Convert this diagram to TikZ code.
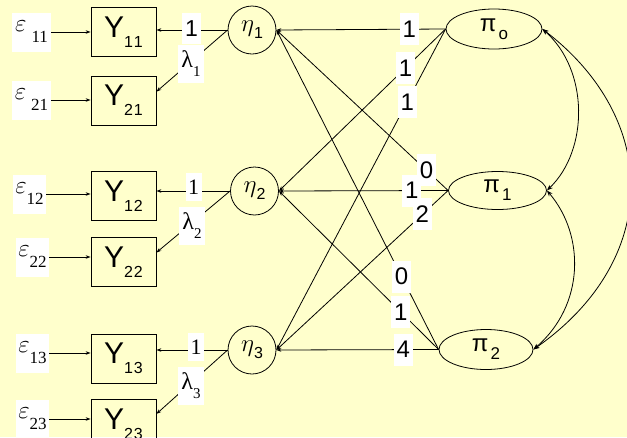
\documentclass[tikz,border=0pt]{standalone}
\usepackage{fontspec}
\setsansfont{Liberation Sans}
\newfontfamily\tnr{Liberation Serif}
\usetikzlibrary{shapes.geometric,arrows.meta,calc}
\definecolor{bg}{RGB}{255,255,204}
\newcommand{\fs}[1]{\fontsize{#1}{#1}\selectfont}
\begin{document}
\begin{tikzpicture}[x=1pt,y=-1pt,
  line width=0.8pt,
  ybox/.style={draw, rectangle, minimum width=65pt, minimum height=49pt, inner sep=0pt, font=\sffamily},
  ebox/.style={fill=white, minimum width=37pt, minimum height=39pt, inner sep=0pt},
  etac/.style={draw, circle, minimum size=48pt, inner sep=0pt},
  pie/.style={draw, ellipse, minimum width=96pt, minimum height=40pt, inner sep=0pt, font=\sffamily},
  lab/.style={fill=white, inner sep=0pt, minimum width=19pt, minimum height=32pt, font=\sffamily\fs{24}},
  slab/.style={fill=white, inner sep=0pt, minimum width=16pt, minimum height=28pt, font=\tnr\fs{22}},
  llab/.style={fill=white, inner sep=0pt, minimum width=26pt, minimum height=38pt, font=\tnr},
  arr/.style={-{Stealth[length=5pt,width=3.5pt]}},
  darr/.style={{Stealth[open,length=6pt,width=4.5pt]}-{Stealth[open,length=6pt,width=4.5pt]}}]
\fill[bg] (0,0) rectangle (627,437);
\useasboundingbox (0,0) rectangle (627,437);
\clip (0,0) rectangle (627,437);

% Y boxes
\node[ybox] (Y11) at (123.5,32) {\fs{30}Y\raisebox{-10pt}{\fs{16}1\kern1pt1}};
\node[ybox] (Y21) at (123.5,100.5) {\fs{30}Y\raisebox{-10pt}{\fs{16}2\kern1pt1}};
\node[ybox] (Y12) at (123.5,196) {\fs{30}Y\raisebox{-10pt}{\fs{16}1\kern1pt2}};
\node[ybox] (Y22) at (123.5,262) {\fs{30}Y\raisebox{-10pt}{\fs{16}2\kern1pt2}};
\node[ybox] (Y13) at (123.5,358.5) {\fs{30}Y\raisebox{-10pt}{\fs{16}1\kern1pt3}};
\node[ybox] (Y23) at (123.5,424) {\fs{30}Y\raisebox{-10pt}{\fs{16}2\kern1pt3}};

% epsilon boxes
\node[ebox, minimum width=39pt] (e11) at (31.5,32) {{\fs{30}$\varepsilon$}\hspace{5pt}\raisebox{-11pt}{\tnr\fs{17}11}};
\node[ebox, minimum width=39pt] (e21) at (31.5,100) {{\fs{30}$\varepsilon$}\hspace{5pt}\raisebox{-11pt}{\tnr\fs{17}21}};
\node[ebox, minimum width=33pt] (e12) at (29.5,194) {{\fs{30}$\varepsilon$}\raisebox{-11pt}{\tnr\fs{17}12}};
\node[ebox, minimum width=33pt] (e22) at (32.5,257) {{\fs{30}$\varepsilon$}\raisebox{-11pt}{\tnr\fs{17}22}};
\node[ebox, minimum width=33pt] (e13) at (32.5,353) {{\fs{30}$\varepsilon$}\raisebox{-11pt}{\tnr\fs{17}13}};
\node[ebox, minimum width=33pt] (e23) at (32.5,419) {{\fs{30}$\varepsilon$}\raisebox{-11pt}{\tnr\fs{17}23}};

% eta circles
\node[etac] (eta1) at (252,30) {{\fs{30}$\eta$}\raisebox{-7pt}{\sffamily\fs{16}1}};
\node[etac] (eta2) at (254.5,191) {{\fs{30}$\eta$}\raisebox{-7pt}{\sffamily\fs{16}2}};
\node[etac] (eta3) at (252,350) {{\fs{30}$\eta$}\raisebox{-7pt}{\sffamily\fs{16}3}};

% pi ellipses
\node[pie] (pi0) at (494,29) {\fs{24}π\hspace{2pt}\raisebox{-8pt}{\fs{17}o}};
\node[pie, minimum width=98pt, minimum height=38pt] (pi1) at (497.5,190.5) {\fs{24}π\hspace{2pt}\raisebox{-8pt}{\fs{17}1}};
\node[pie, minimum width=94pt] (pi2) at (486,349.5) {\fs{24}π\hspace{2pt}\raisebox{-8pt}{\fs{17}2}};

% epsilon arrows
\foreach \e/\y in {e11/Y11,e21/Y21,e12/Y12,e22/Y22,e13/Y13,e23/Y23}
  \draw[arr] (\e.east) -- (\e.east -| \y.west);

% eta to Y arrows
\draw[arr] (eta1.west) -- (eta1.west -| Y11.east);
\draw[arr] (eta1.west) -- (Y21.15);
\draw[arr] (eta2.west) -- (eta2.west -| Y12.east);
\draw[arr] (eta2.west) -- (Y22.16);
\draw[arr] (eta3.west) -- (eta3.west -| Y13.east);
\draw[arr] (eta3.west) -- (Y23.17);

% pi to eta arrows
\draw[arr] (pi0.west) -- (eta1.east);
\draw[arr] (pi0.west) -- (eta2.east);
\draw[arr] (pi0.west) -- (eta3.east);
\draw[arr] (pi1.west) -- (eta1.east);
\draw[arr] (pi1.west) -- (eta2.east);
\draw[arr] (pi1.west) -- (eta3.east);
\draw[arr] (pi2.west) -- (eta1.east);
\draw[arr] (pi2.west) -- (eta2.east);
\draw[arr] (pi2.west) -- (eta3.east);

% labels on pi-eta lines
\path (pi0.west) -- (eta1.east) node[lab,pos=0.215] (l01) {1};
\path (pi0.west) -- (eta2.east) node[lab,pos=0.24] (l02) {1};
\path (pi0.west) -- (eta3.east) node[lab,pos=0.227] (l03) {1};
\path (pi1.west) -- (eta1.east) node[lab,pos=0.125] (l11) {0};
\path (pi1.west) -- (eta2.east) node[lab,pos=0.215] (l12) {1};
\path (pi1.west) -- (eta3.east) node[lab,pos=0.15] (l13) {2};
\path (pi2.west) -- (eta1.east) node[lab,pos=0.228] (l21) {0};
\path (pi2.west) -- (eta2.east) node[lab,pos=0.236] (l22) {1};
\path (pi2.west) -- (eta3.east) node[lab,pos=0.218] (l23) {4};

% labels on eta-Y arrows
\node[lab, minimum height=31pt, font=\sffamily\fs{23}] (one1) at (191.5,28.5) {1};
\node[llab] (lam1) at (191,64) {\fs{24}λ\raisebox{-9pt}{\fs{15}1}};
\node[slab] (one2) at (193.5,187) {1};
\node[llab] (lam2) at (192,225.5) {\fs{24}λ\raisebox{-9pt}{\fs{15}2}};
\node[slab] (one3) at (196,347) {1};
\node[llab] (lam3) at (191,386) {\fs{24}λ\raisebox{-9pt}{\fs{15}3}};

% covariance curves
\draw[darr] (pi0.east) .. controls (589,70) and (589,150) .. (pi1.east);
\draw[darr] (pi1.east) .. controls (585,235) and (585,305) .. (pi2.east);
\draw[darr] (pi0.east) .. controls (661,120) and (661,260) .. (pi2.east);
\end{tikzpicture}
\end{document}
